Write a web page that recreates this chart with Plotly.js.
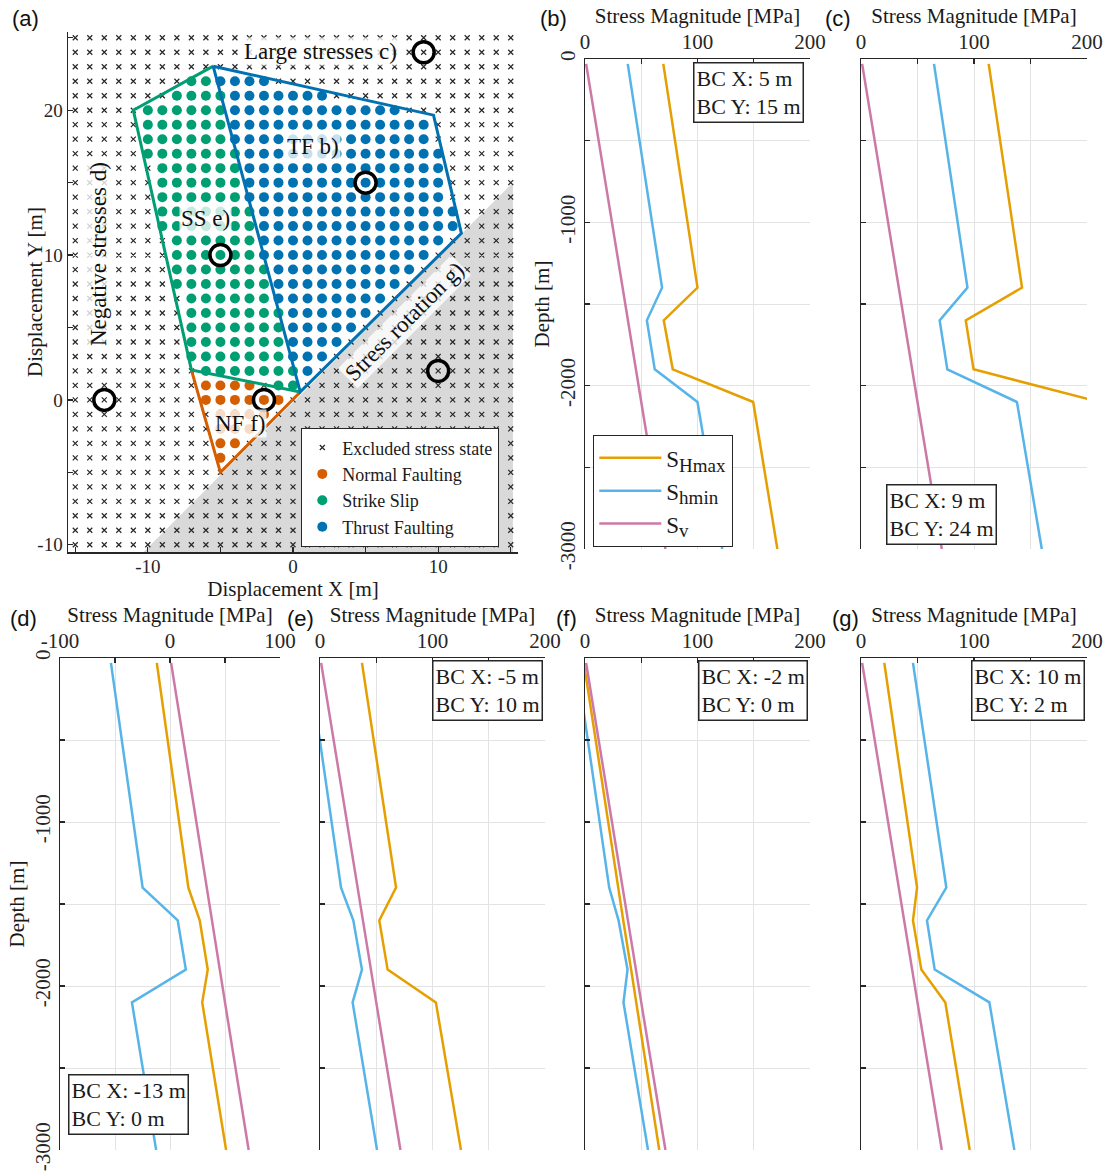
<!DOCTYPE html>
<html><head><meta charset="utf-8">
<script src="https://cdn.plot.ly/plotly-3.0.1.min.js"></script>
<style>html,body{margin:0;padding:0;background:#fff}#chart{width:1110px;height:1174px}</style>
</head><body><div id="chart"></div>
<script>
// ---------------- Panel (a): grid of boundary-condition displacements ----------------
const gridX = [-15,-14,-13,-12,-11,-10,-9,-8,-7,-6,-5,-4,-3,-2,-1,0,1,2,3,4,5,6,7,8,9,10,11,12,13,14,15];
const gridY = [25,24,23,22,21,20,19,18,17,16,15,14,13,12,11,10,9,8,7,6,5,4,3,2,1,0,-1,-2,-3,-4,-5,-6,-7,-8,-9,-10];
// run-length class per row (x = excluded, N = normal, S = strike slip, T = thrust), row order = gridY
const regimeRows = [
  "31x","31x","31x","8x2S4T17x","7x4S7T13x","5x6S12T8x","5x6S14T6x","5x6S14T6x",
  "5x7S14T5x","6x6S14T5x","6x6S14T5x","6x6S14T5x","6x7S14T4x","6x7S14T4x","7x6S13T5x",
  "7x6S12T6x","7x7S10T7x","7x7S9T8x","8x6S8T9x","8x7S6T10x","8x7S5T11x","8x7S4T12x",
  "8x7S3T13x","9x7S1T14x","9x4N1x2S15x","9x6N16x","10x4N17x","10x3N18x","10x2N19x",
  "10x1N20x","31x","31x","31x","31x","31x","31x"
];
const regimeNames = {x:"Excluded stress state", N:"Normal Faulting", S:"Strike Slip", T:"Thrust Faulting"};
const regimeColors = {x:"#262626", N:"#D55E00", S:"#009E73", T:"#0072B2"};
const ssOutlineX = [-5.5,-11,-7,0.5];          const ssOutlineY = [23.04,20,2.07,0.55];
const tfOutlineX = [-5.5,9.68,11.6,0.5,-5.5];  const tfOutlineY = [23.04,19.66,11.5,0.55,23.04];
const nfOutlineX = [0.5,-5,-7];                const nfOutlineY = [0.55,-5,2.07];
const rotationZoneX = [-10.3,15.15,15.15];     const rotationZoneY = [-10.5,15,-10.5];
const bcPickX = [5,9,-13,-5,-2,10];            const bcPickY = [15,24,0,10,0,2];
const aXTicks = [-10,0,10];        const aXMinor = [-15,-5,5,15];
const aYTicks = [-10,0,10,20];     const aYMinor = [-5,5,15,25];

// ---------------- Panels (b)-(g): stress profiles ----------------
const depthNodes = [-30,-1400,-1600,-1900,-2100,-3000];
const svProfile = [1,33,38,45,50,71.5];
const shmaxB = [69.6,100,70,78,149.5,171];   const shminB = [38,68.5,55,62,100,122];
const shmaxC = [113,142.5,92.7,99.6,211,235]; const shminC = [64.6,94.2,69.6,76.4,138,160];
const shmaxD = [-12,16.7,27,34.3,29.3,51];    const shminD = [-53.7,-24.9,7,14.4,-34.6,-12.6];
const shmaxE = [37.3,67.6,52.7,60.1,103,125.3]; const shminE = [-10,18.7,29.6,37.3,29,50.7];
const shmaxF = [-1,29,34,41,45.5,66];         const shminF = [-7.5,21.5,29.8,37.8,34.2,56];
const shmaxG = [20.6,49.6,46,53.4,74.6,96.2]; const shminG = [46,75.5,58.4,65.2,113.6,135.7];
const bcLabels = ["BC X: 5 m<br>BC Y: 15 m","BC X: 9 m<br>BC Y: 24 m","BC X: -13 m<br>BC Y: 0 m",
                  "BC X: -5 m<br>BC Y: 10 m","BC X: -2 m<br>BC Y: 0 m","BC X: 10 m<br>BC Y: 2 m"];
const depthTicks = [0,-1000,-2000,-3000];
const depthMinor = [-500,-1500,-2500];
const seriesNames = ["S<sub><span style=\"font-size:19px\">Hmax</span></sub>",
                     "S<sub><span style=\"font-size:19px\">hmin</span></sub>",
                     "S<sub><span style=\"font-size:19px\">v</span></sub>"];

const W = 1110, H = 1174;
const SERIF = "Liberation Serif, Times New Roman, serif";
const SANS = "Liberation Sans, Arial, sans-serif";
const AX = "#262626";
const GRID = "#e3e3e3";
const dx = (a,b) => [a/W, b/W];
const dy = (top,bot) => [1-bot/H, 1-top/H];

const traces = [];
traces.push({type:"scatter", mode:"lines", x:rotationZoneX, y:rotationZoneY, fill:"toself",
  fillcolor:"#d9d9d9", line:{width:0, color:"#d9d9d9"}, showlegend:false, hoverinfo:"skip", xaxis:"x", yaxis:"y"});

const cls = {x:{x:[],y:[]}, N:{x:[],y:[]}, S:{x:[],y:[]}, T:{x:[],y:[]}};
regimeRows.forEach((row, j) => {
  const cells = [];
  row.replace(/(\d+)([xNST])/g, (m, n, c) => { for (let k = 0; k < +n; k++) cells.push(c); return m; });
  cells.forEach((c, i) => { cls[c].x.push(gridX[i]); cls[c].y.push(gridY[j]); });
});
traces.push({type:"scatter", mode:"markers", name:regimeNames.x, x:cls.x.x, y:cls.x.y, legend:"legend",
  marker:{symbol:"x-thin", size:5, color:regimeColors.x, line:{width:1.2, color:regimeColors.x}}, xaxis:"x", yaxis:"y"});
["N","S","T"].forEach(c => traces.push({type:"scatter", mode:"markers", name:regimeNames[c], x:cls[c].x, y:cls[c].y,
  legend:"legend", marker:{symbol:"circle", size:10, color:regimeColors[c]}, xaxis:"x", yaxis:"y"}));
traces.push({type:"scatter", mode:"lines", x:nfOutlineX, y:nfOutlineY, line:{color:"#D55E00", width:3}, showlegend:false, hoverinfo:"skip", xaxis:"x", yaxis:"y"});
traces.push({type:"scatter", mode:"lines", x:ssOutlineX, y:ssOutlineY, line:{color:"#009E73", width:3}, showlegend:false, hoverinfo:"skip", xaxis:"x", yaxis:"y"});
traces.push({type:"scatter", mode:"lines", x:tfOutlineX, y:tfOutlineY, line:{color:"#0072B2", width:3}, showlegend:false, hoverinfo:"skip", xaxis:"x", yaxis:"y"});
traces.push({type:"scatter", mode:"markers", x:bcPickX, y:bcPickY, showlegend:false, hoverinfo:"skip",
  marker:{symbol:"circle-open", size:21, color:"#000", line:{width:3.5, color:"#000"}}, xaxis:"x", yaxis:"y"});

const panels = [
  {k:2, xd:[585,810], yd:[59,549], xr:[0,200], sh:shmaxB, sm:shminB, ylab:true, letter:"(b)", lx:553, ly:18,
   bc:{x:0.973, y:0.994, xa:"right", ya:"top"}},
  {k:3, xd:[861,1087], yd:[59,549], xr:[0,200], sh:shmaxC, sm:shminC, ylab:false, letter:"(c)", lx:838, ly:18,
   bc:{x:0.11, y:0.008, xa:"left", ya:"bottom"}},
  {k:4, xd:[60,280], yd:[658,1150], xr:[-100,100], sh:shmaxD, sm:shminD, ylab:true, letter:"(d)", lx:23, ly:618,
   bc:{x:0.036, y:0.03, xa:"left", ya:"bottom"}},
  {k:5, xd:[320,545], yd:[658,1150], xr:[0,200], sh:shmaxE, sm:shminE, ylab:false, letter:"(e)", lx:300, ly:618,
   bc:{x:0.991, y:0.995, xa:"right", ya:"top"}},
  {k:6, xd:[585,810], yd:[658,1150], xr:[0,200], sh:shmaxF, sm:shminF, ylab:false, letter:"(f)", lx:566, ly:618,
   bc:{x:0.991, y:0.995, xa:"right", ya:"top"}},
  {k:7, xd:[861,1087], yd:[658,1150], xr:[0,200], sh:shmaxG, sm:shminG, ylab:false, letter:"(g)", lx:845, ly:618,
   bc:{x:0.991, y:0.995, xa:"right", ya:"top"}}
];

const minorIn = (vals, grid) => ({tickmode:"array", tickvals:vals, ticks:"inside", ticklen:5, tickcolor:AX, tickwidth:1.3,
  showgrid:grid, gridcolor:GRID, gridwidth:1});

const layout = {
  width:W, height:H, margin:{l:0,r:0,t:0,b:0},
  paper_bgcolor:"#fff", plot_bgcolor:"rgba(0,0,0,0)",
  font:{family:SERIF, size:19, color:"#1a1a1a"},
  showlegend:true,
  legend:{x:301/W, y:1-428/H, xanchor:"left", yanchor:"top", bgcolor:"#fff", bordercolor:AX, borderwidth:1.3,
    font:{family:SERIF, size:18, color:"#1a1a1a"}, tracegroupgap:0},
  legend2:{x:593/W, y:1-435/H, xanchor:"left", yanchor:"top", bgcolor:"#fff", bordercolor:AX, borderwidth:1.3,
    font:{family:SERIF, size:23, color:"#1a1a1a"}, tracegroupgap:0, itemwidth:62},
  xaxis:{domain:dx(68,518), anchor:"y", range:[-15.5,15.5], showgrid:false, zeroline:false, showline:true,
    linecolor:AX, linewidth:1.5, ticks:"inside", ticklen:5, tickcolor:AX, tickwidth:1.3, ticklabelstandoff:-3,
    tickmode:"array", tickvals:aXTicks, ticktext:aXTicks.map(String), minor:minorIn(aXMinor, false),
    tickfont:{size:19, color:AX},
    title:{text:"Displacement X [m]", font:{size:21, color:"#1a1a1a"}, standoff:0}, automargin:false},
  yaxis:{domain:dy(32,552), anchor:"x", range:[-10.5,25.4], showgrid:false, zeroline:false, showline:true,
    linecolor:AX, linewidth:1.5, ticks:"inside", ticklen:5, tickcolor:AX, tickwidth:1.3,
    tickmode:"array", tickvals:aYTicks, ticktext:aYTicks.map(String), minor:minorIn(aYMinor, false),
    tickfont:{size:19, color:AX}, automargin:false},
  annotations:[], shapes:[]
};

// panel (a) y-axis title (placed close to the tick labels, as in the figure)
layout.annotations.push({xref:"paper", yref:"paper", x:35/W, y:1-292/H, xanchor:"center", yanchor:"middle",
  text:"Displacement Y [m]", textangle:-90, showarrow:false, font:{family:SERIF, size:21, color:"#1a1a1a"}});

const aNotes = [
  {text:"Large stresses c)", x:1.9, y:24.07, ang:0},
  {text:"TF b)", x:1.4, y:17.5, ang:0},
  {text:"SS e)", x:-6.0, y:12.55, ang:0},
  {text:"NF f)", x:-3.65, y:-1.65, ang:0},
  {text:"Negative stresses d)", x:-13.4, y:10.1, ang:-90},
  {text:"Stress rotation g)", x:7.7, y:5.4, ang:-45}
];
aNotes.forEach(n => layout.annotations.push({xref:"x", yref:"y", x:n.x, y:n.y, text:n.text, textangle:n.ang,
  showarrow:false, font:{family:SERIF, size:23, color:"#111"}, bgcolor:"rgba(255,255,255,0.78)", borderpad:1}));
layout.annotations.push({xref:"paper", yref:"paper", x:25/W, y:1-18/H, xanchor:"center", yanchor:"middle",
  text:"(a)", showarrow:false, font:{family:SANS, size:22, color:"#111"}});

panels.forEach((p, idx) => {
  const xa = "x"+p.k, ya = "y"+p.k;
  const first = idx === 0;
  traces.push({type:"scatter", mode:"lines", name:seriesNames[0], x:p.sh, y:depthNodes, xaxis:xa, yaxis:ya,
    line:{color:"#E69F00", width:2.5}, showlegend:first, legend:"legend2", hoverinfo:"skip"});
  traces.push({type:"scatter", mode:"lines", name:seriesNames[1], x:p.sm, y:depthNodes, xaxis:xa, yaxis:ya,
    line:{color:"#56B4E9", width:2.5}, showlegend:first, legend:"legend2", hoverinfo:"skip"});
  traces.push({type:"scatter", mode:"lines", name:seriesNames[2], x:svProfile, y:depthNodes, xaxis:xa, yaxis:ya,
    line:{color:"#CC79A7", width:2.5}, showlegend:first, legend:"legend2", hoverinfo:"skip"});
  const xMajor = [p.xr[0], (p.xr[0]+p.xr[1])/2, p.xr[1]];
  const xMinor = [(p.xr[0]*3+p.xr[1])/4, (p.xr[0]+p.xr[1]*3)/4];
  layout["xaxis"+p.k] = {domain:dx(p.xd[0],p.xd[1]), anchor:ya, side:"top", range:p.xr, zeroline:false,
    showline:true, linecolor:AX, linewidth:1.5, ticks:"inside", ticklen:5, tickcolor:AX, tickwidth:1.3,
    showgrid:true, gridcolor:GRID, gridwidth:1,
    tickmode:"array", tickvals:xMajor, ticktext:xMajor.map(String), minor:minorIn(xMinor, true),
    tickfont:{size:21, color:AX},
    title:{text:"Stress Magnitude [MPa]", font:{size:21, color:"#1a1a1a"}, standoff:0}, automargin:false};
  const yax = {domain:dy(p.yd[0],p.yd[1]), anchor:xa, range:[-3000,0], zeroline:false,
    showline:true, linecolor:AX, linewidth:1.5, ticks:"inside", ticklen:5, tickcolor:AX, tickwidth:1.3,
    showgrid:true, gridcolor:GRID, gridwidth:1,
    tickmode:"array", tickvals:depthTicks, ticktext:depthTicks.map(String), minor:minorIn(depthMinor, true),
    tickangle:-90, showticklabels:p.ylab, tickfont:{size:21, color:AX}, automargin:false};
  if (p.ylab) yax.title = {text:"Depth [m]", font:{size:21, color:"#1a1a1a"}, standoff:0};
  layout["yaxis"+p.k] = yax;
  layout.annotations.push({xref:xa+" domain", yref:ya+" domain", x:p.bc.x, y:p.bc.y, xanchor:p.bc.xa, yanchor:p.bc.ya,
    text:bcLabels[idx], align:"left", showarrow:false, bgcolor:"#fff", bordercolor:AX, borderwidth:1.5, borderpad:2,
    font:{family:SERIF, size:22, color:"#1a1a1a"}});
  layout.annotations.push({xref:"paper", yref:"paper", x:p.lx/W, y:1-p.ly/H, xanchor:"center", yanchor:"middle",
    text:p.letter, showarrow:false, font:{family:SANS, size:22, color:"#111"}});
});

Plotly.newPlot("chart", traces, layout, {staticPlot:true, displayModeBar:false});
</script>
</body></html>
